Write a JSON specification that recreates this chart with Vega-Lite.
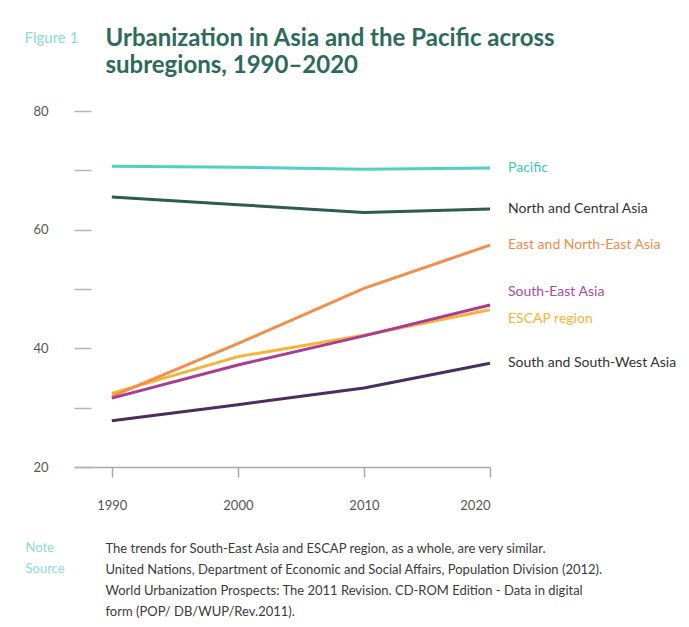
{
  "$schema": "https://vega.github.io/schema/vega-lite/v6.json",
  "width": 416,
  "height": 356,
  "autosize": {"type": "none"},
  "padding": {"left": 74, "top": 111, "right": 199, "bottom": 160},
  "background": "white",
  "config": {"view": {"stroke": null}, "font": "Lato", "axis": {"grid": false}},
  "data": {
    "values": [
      {"series": "Pacific", "year": 1990, "value": 70.7},
      {"series": "Pacific", "year": 2000, "value": 70.5},
      {"series": "Pacific", "year": 2010, "value": 70.2},
      {"series": "Pacific", "year": 2020, "value": 70.4},
      {"series": "North and Central Asia", "year": 1990, "value": 65.5},
      {"series": "North and Central Asia", "year": 2000, "value": 64.2},
      {"series": "North and Central Asia", "year": 2010, "value": 62.9},
      {"series": "North and Central Asia", "year": 2020, "value": 63.5},
      {"series": "ESCAP region", "year": 1990, "value": 32.4},
      {"series": "ESCAP region", "year": 2000, "value": 38.6},
      {"series": "ESCAP region", "year": 2010, "value": 42.2},
      {"series": "ESCAP region", "year": 2020, "value": 46.5},
      {"series": "East and North-East Asia", "year": 1990, "value": 31.9},
      {"series": "East and North-East Asia", "year": 2000, "value": 40.8},
      {"series": "East and North-East Asia", "year": 2010, "value": 50.1},
      {"series": "East and North-East Asia", "year": 2020, "value": 57.4},
      {"series": "South-East Asia", "year": 1990, "value": 31.6},
      {"series": "South-East Asia", "year": 2000, "value": 37.2},
      {"series": "South-East Asia", "year": 2010, "value": 42.1},
      {"series": "South-East Asia", "year": 2020, "value": 47.3},
      {"series": "South and South-West Asia", "year": 1990, "value": 27.8},
      {"series": "South and South-West Asia", "year": 2000, "value": 30.5},
      {"series": "South and South-West Asia", "year": 2010, "value": 33.3},
      {"series": "South and South-West Asia", "year": 2020, "value": 37.5}
    ]
  },
  "layer": [
    {
      "mark": {"type": "line", "strokeWidth": 3},
      "encoding": {
        "x": {
          "field": "year", "type": "quantitative",
          "scale": {"domain": [1987, 2020], "nice": false, "zero": false},
          "axis": {
            "orient": "bottom", "values": [1990, 2000, 2010, 2020], "format": "d",
            "domainColor": "#a8a8a8", "domainWidth": 1.5, "tickColor": "#a8a8a8", "tickWidth": 1.5, "tickSize": 10,
            "labelPadding": 22, "labelFont": "Lato", "labelFontSize": 13, "labelColor": "#555555",
            "title": [
              "The trends for South-East Asia and ESCAP region, as a whole, are very similar.",
              "United Nations, Department of Economic and Social Affairs, Population Division (2012).",
              "World Urbanization Prospects: The 2011 Revision. CD-ROM Edition - Data in digital",
              "form (POP/ DB/WUP/Rev.2011)."
            ],
            "titleX": 31, "titleY": 75, "titleAlign": "left", "titleAnchor": "start", "titleBaseline": "top",
            "titleFont": "Lato", "titleFontWeight": "normal", "titleFontSize": 13, "titleColor": "#3a3a3a", "titleLineHeight": 21
          }
        },
        "y": {
          "field": "value", "type": "quantitative",
          "scale": {"domain": [20, 80], "nice": false, "zero": false},
          "axis": {
            "orient": "left", "values": [20, 30, 40, 50, 60, 70, 80],
            "labelExpr": "datum.value % 20 == 0 ? datum.label : ''",
            "domain": false, "offset": -17, "tickSize": 17, "tickColor": "#b5b5b5", "tickWidth": 1.5,
            "labelPadding": 26, "labelFont": "Lato", "labelFontSize": 13, "labelColor": "#555555",
            "title": "Figure 1", "titleAngle": 0, "titleX": -67, "titleY": -81, "titleAlign": "left",
            "titleBaseline": "top", "titleFont": "Lato", "titleFontWeight": "normal", "titleFontSize": 15, "titleColor": "#8adcd2"
          }
        },
        "color": {
          "field": "series", "type": "nominal",
          "scale": {
            "domain": ["Pacific", "North and Central Asia", "East and North-East Asia", "South-East Asia", "ESCAP region", "South and South-West Asia"],
            "range": ["#4fd1c1", "#2e5b50", "#f28d4a", "#a83c95", "#f9b233", "#4b2c5e"]
          },
          "legend": null
        }
      }
    },
    {
      "transform": [
        {"filter": "datum.year == 2020 && datum.series != 'South-East Asia' && datum.series != 'ESCAP region'"}
      ],
      "mark": {"type": "text", "align": "left", "baseline": "middle", "dx": 18, "font": "Lato", "fontSize": 14},
      "encoding": {
        "x": {
          "field": "year", "type": "quantitative",
          "axis": {
            "orient": "top", "labels": false, "ticks": false, "domain": false,
            "title": ["Urbanization in Asia and the Pacific across", "subregions, 1990\u20132020"],
            "titleX": 31, "titleY": -85, "titleAlign": "left", "titleAnchor": "start", "titleBaseline": "top",
            "titleFont": "Lato", "titleFontWeight": "bold", "titleFontSize": 24, "titleColor": "#2d6a5c", "titleLineHeight": 27
          }
        },
        "y": {
          "field": "value", "type": "quantitative",
          "axis": {
            "orient": "right", "labels": false, "ticks": false, "domain": false,
            "title": ["Note", "Source"], "titleAngle": 0, "titleX": -465, "titleY": 430, "titleAlign": "left",
            "titleBaseline": "top", "titleFont": "Lato", "titleFontWeight": "normal", "titleFontSize": 13, "titleColor": "#8adcd2", "titleLineHeight": 21
          }
        },
        "text": {"field": "series"},
        "color": {
          "field": "series", "type": "nominal",
          "scale": {
            "domain": ["Pacific", "North and Central Asia", "East and North-East Asia", "South-East Asia", "ESCAP region", "South and South-West Asia"],
            "range": ["#3cc9b8", "#333333", "#f08a4b", "#b04aa0", "#f9b233", "#333333"]
          },
          "legend": null
        }
      }
    },
    {
      "transform": [{"filter": "datum.year == 2020 && datum.series == 'South-East Asia'"}],
      "mark": {"type": "text", "align": "left", "baseline": "middle", "dx": 18, "dy": -13, "font": "Lato", "fontSize": 14},
      "encoding": {
        "x": {"field": "year", "type": "quantitative", "axis": null},
        "y": {"field": "value", "type": "quantitative", "axis": null},
        "text": {"field": "series"},
        "color": {"value": "#b04aa0"}
      }
    },
    {
      "transform": [{"filter": "datum.year == 2020 && datum.series == 'ESCAP region'"}],
      "mark": {"type": "text", "align": "left", "baseline": "middle", "dx": 18, "dy": 9, "font": "Lato", "fontSize": 14},
      "encoding": {
        "x": {"field": "year", "type": "quantitative", "axis": null},
        "y": {"field": "value", "type": "quantitative", "axis": null},
        "text": {"field": "series"},
        "color": {"value": "#f9b233"}
      }
    }
  ],
  "resolve": {"axis": {"x": "independent", "y": "independent"}, "scale": {"color": "independent"}}
}
